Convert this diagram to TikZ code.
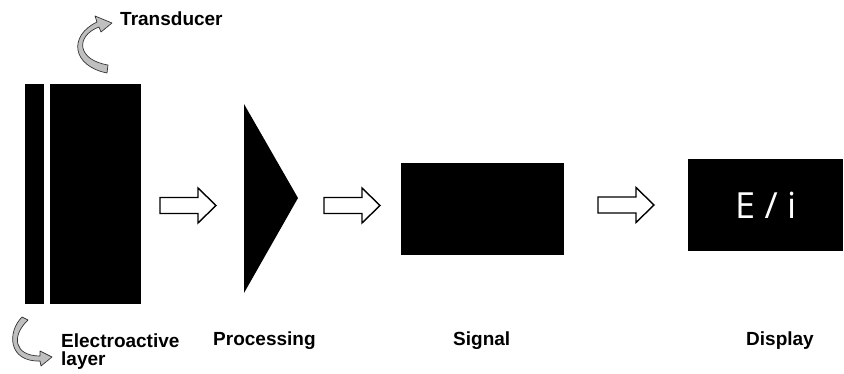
\documentclass[tikz,border=0pt]{standalone}
\usepackage{fontspec}
\setmainfont{Liberation Sans}
\newfontfamily\disfont{Open Sans}
\begin{document}
\begin{tikzpicture}[x=1pt,y=-1pt,
  blk/.style={fill=black,draw=none,inner sep=0pt,anchor=north west},
  lbl/.style={inner sep=0pt,anchor=base west,font=\fontsize{19}{18}\selectfont\bfseries},
  curv/.style={fill=black!25,draw=black!80,line width=0.7pt,line join=round},
  blockarr/.pic={\draw[line width=1.4pt,fill=white,line join=miter]
     (0,-8) -- (38,-8) -- (38,-17.5) -- (56,0) -- (38,17.5) -- (38,8) -- (0,8) -- cycle;}]
\useasboundingbox (0,0) rectangle (844,374);
% transducer / layer
\node[blk,minimum width=19pt,minimum height=220pt] (layer) at (25,84) {};
\node[blk,minimum width=91pt,minimum height=220pt] (trans) at (50,84) {};
% processing triangle
\fill (244,104) -- (298,198) -- (244,293) -- cycle;
\coordinate (proc) at (262,198);
% signal
\node[blk,minimum width=163pt,minimum height=92pt] (signal) at (401,163) {};
% display
\node[blk,minimum width=155pt,minimum height=92pt] (display) at (688,159) {};
\node[text=white,inner sep=0pt,font=\disfont\fontsize{36}{40}\selectfont] (ei) at (display.center) {E / i};
% block arrows
\pic at (160,205.5) {blockarr};
\pic at (324,205.5) {blockarr};
\pic at (598,205) {blockarr};
% curved arrows
\draw[curv] (107,73) .. controls (72,66) and (68,36) .. (97,22)
  -- (95,16) -- (112,23) -- (101,32) -- (99,27)
  .. controls (75,36) and (77,60) .. (108,65) -- cycle;
\draw[curv] (22,317) .. controls (7,332) and (8,362) .. (40,361)
  -- (41,366) -- (52,357) -- (40,351) -- (40,356)
  .. controls (14,356) and (11,336) .. (28,320) -- cycle;
% labels
\node[lbl] (tlbl) at (120,26) {Transducer};
\node[lbl,anchor=north west,align=left] (elbl) at (61,333.5) {Electroactive\\layer};
\node[lbl] (plbl) at (213,345) {Processing};
\node[lbl] (slbl) at (453,345) {Signal};
\node[lbl] (dlbl) at (746,345) {Display};
\end{tikzpicture}
\end{document}
